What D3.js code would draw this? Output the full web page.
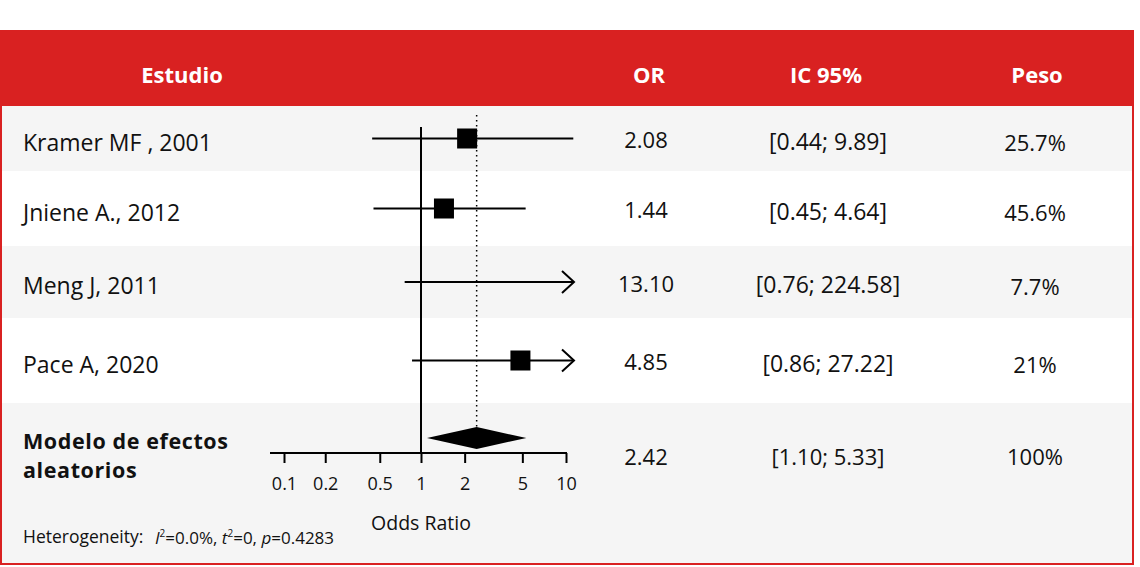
<!DOCTYPE html>
<html>
<head>
<meta charset="utf-8">
<script src="https://cdn.jsdelivr.net/npm/d3@7"></script>
<style>
  body { margin: 0; background: #fff; }
  svg { display: block; font-family: "Open Sans", "Noto Sans", sans-serif; }
</style>
</head>
<body>
<svg id="chart" width="1140" height="567"></svg>
<script>
// study data
var studies = ["Kramer MF , 2001", "Jniene A., 2012", "Meng J, 2011", "Pace A, 2020"];
var orValues = [2.08, 1.44, 13.10, 4.85];
var ciLower = [0.44, 0.45, 0.76, 0.86];
var ciUpper = [9.89, 4.64, 224.58, 27.22];
var weights = [25.7, 45.6, 7.7, 21];

// pooled (random effects)
var pooledLabel = ["Modelo de efectos", "aleatorios"];
var pooledOR = 2.42;
var pooledCI = [1.10, 5.33];
var pooledWeight = 100;

var headers = ["Estudio", "OR", "IC 95%", "Peso"];
var tickValues = [0.1, 0.2, 0.5, 1, 2, 5, 10];
var tickLabels = ["0.1", "0.2", "0.5", "1", "2", "5", "10"];

var red = "#d92121";
var grey = "#f5f5f5";

var svg = d3.select("#chart");

// row bands (header + 4 studies + pooled)
var headerTop = 31, headerBottom = 106;
var rowEdges = [106, 171, 246, 318, 403, 564];
var colX = {name: 23, or: 646, ci: 828, peso: 1035};
var headerX = [182, 649, 826, 1037];

var x = d3.scaleLog()
    .domain([0.1, 1, 10])
    .range([284, 421, 566]);

function fmt(v) { return v.toFixed(2); }

// backgrounds
svg.append("rect")
    .attr("x", 0).attr("y", headerTop)
    .attr("width", 1134).attr("height", headerBottom - headerTop)
    .attr("fill", red);

svg.selectAll("rect.band")
    .data(d3.range(rowEdges.length - 1))
    .enter().append("rect")
    .attr("class", "band")
    .attr("x", 1).attr("width", 1132)
    .attr("y", function(i) { return rowEdges[i]; })
    .attr("height", function(i) { return rowEdges[i + 1] - rowEdges[i]; })
    .attr("fill", function(i) { return i % 2 === 0 ? grey : "#fff"; });

// frame
svg.append("rect")
    .attr("x", 1).attr("y", headerTop)
    .attr("width", 1132).attr("height", rowEdges[rowEdges.length - 1] - headerTop)
    .attr("fill", "none")
    .attr("stroke", red)
    .attr("stroke-width", 2);

// header
svg.selectAll("text.head")
    .data(headers)
    .enter().append("text")
    .attr("class", "head")
    .attr("x", function(d, i) { return headerX[i]; })
    .attr("y", (headerTop + headerBottom) / 2 + 7)
    .attr("dy", "0.35em")
    .attr("text-anchor", "middle")
    .attr("fill", "#fff")
    .style("font-size", "22px")
    .style("font-weight", 700)
    .text(function(d) { return d; });

function rowMid(i) { return (rowEdges[i] + rowEdges[i + 1]) / 2; }

// study text columns
var rows = svg.selectAll("g.row")
    .data(studies)
    .enter().append("g")
    .attr("class", "row");

rows.append("text")
    .attr("x", colX.name)
    .attr("y", function(d, i) { return rowMid(i) + 4; })
    .attr("dy", "0.35em")
    .style("font-size", "23px")
    .attr("fill", "#111")
    .text(function(d) { return d; });

rows.append("text")
    .attr("x", colX.or)
    .attr("y", function(d, i) { return rowMid(i) + 2; })
    .attr("dy", "0.35em")
    .attr("text-anchor", "middle")
    .style("font-size", "22px")
    .attr("fill", "#111")
    .text(function(d, i) { return fmt(orValues[i]); });

rows.append("text")
    .attr("x", colX.ci)
    .attr("y", function(d, i) { return rowMid(i) + 3; })
    .attr("dy", "0.35em")
    .attr("text-anchor", "middle")
    .style("font-size", "23px")
    .attr("fill", "#111")
    .text(function(d, i) { return "[" + fmt(ciLower[i]) + "; " + fmt(ciUpper[i]) + "]"; });

rows.append("text")
    .attr("x", colX.peso)
    .attr("y", function(d, i) { return rowMid(i) + 5; })
    .attr("dy", "0.35em")
    .attr("text-anchor", "middle")
    .style("font-size", "22px")
    .attr("fill", "#111")
    .text(function(d, i) { return weights[i] + "%"; });

// pooled row text
var pTop = rowEdges[4];
svg.selectAll("text.plabel")
    .data(pooledLabel)
    .enter().append("text")
    .attr("class", "plabel")
    .attr("x", colX.name)
    .attr("y", function(d, i) { return pTop + 38 + i * 29.5; })
    .attr("dy", "0.35em")
    .style("font-size", "21.5px")
    .style("letter-spacing", "0.6px")
    .style("font-weight", 700)
    .attr("fill", "#111")
    .text(function(d) { return d; });

var pooledCols = [
    {x: colX.or, t: fmt(pooledOR)},
    {x: colX.ci, t: "[" + fmt(pooledCI[0]) + "; " + fmt(pooledCI[1]) + "]"},
    {x: colX.peso, t: pooledWeight + "%"}
];
svg.selectAll("text.pcol")
    .data(pooledCols)
    .enter().append("text")
    .attr("class", "pcol")
    .attr("x", function(d) { return d.x; })
    .attr("y", pTop + 54)
    .attr("dy", "0.35em")
    .attr("text-anchor", "middle")
    .style("font-size", "22px")
    .attr("fill", "#111")
    .text(function(d) { return d.t; });

// forest plot
var plot = svg.append("g");
var axisY = 453;
var lo = x.domain()[0], hi = x.domain()[x.domain().length - 1];

// reference line at OR = 1
plot.append("line")
    .attr("x1", x(1)).attr("x2", x(1))
    .attr("y1", 127).attr("y2", axisY)
    .attr("stroke", "#000").attr("stroke-width", 2);

// pooled estimate dotted line
plot.append("line")
    .attr("x1", x(pooledOR)).attr("x2", x(pooledOR))
    .attr("y1", 115).attr("y2", 427)
    .attr("stroke", "#000").attr("stroke-width", 1.5)
    .attr("stroke-dasharray", "1.5,3.5");

studies.forEach(function(s, i) {
    var y = rowMid(i);
    var x0 = x(Math.max(ciLower[i], lo));
    var x1 = x(Math.min(ciUpper[i], hi)) + 8;
    plot.append("line")
        .attr("x1", x0).attr("x2", x1)
        .attr("y1", y).attr("y2", y)
        .attr("stroke", "#000").attr("stroke-width", 2);
    // arrow when the interval runs past the axis
    if (ciUpper[i] > hi) {
        plot.append("path")
            .attr("d", "M" + (x1 - 12) + "," + (y - 11) + "L" + x1 + "," + y + "L" + (x1 - 12) + "," + (y + 11))
            .attr("fill", "none")
            .attr("stroke", "#000").attr("stroke-width", 2);
    }
    if (orValues[i] >= lo && orValues[i] <= hi) {
        plot.append("rect")
            .attr("x", x(orValues[i]) - 10).attr("y", y - 10)
            .attr("width", 20).attr("height", 20)
            .attr("fill", "#000");
    }
});

// diamond
var dy = 438;
plot.append("path")
    .attr("d", "M" + x(pooledCI[0]) + "," + dy +
               "L" + x(pooledOR) + "," + (dy - 11) +
               "L" + x(pooledCI[1]) + "," + dy +
               "L" + x(pooledOR) + "," + (dy + 11) + "Z")
    .attr("fill", "#000");

// axis
var axis = d3.axisBottom(x)
    .tickValues(tickValues)
    .tickFormat(function(d, i) { return tickLabels[i]; })
    .tickSize(10)
    .tickSizeOuter(0)
    .tickPadding(14);

var ax = plot.append("g")
    .attr("transform", "translate(0," + axisY + ")")
    .call(axis);
ax.select(".domain").remove();
ax.selectAll(".tick line").attr("stroke", "#000").attr("stroke-width", 2);
ax.selectAll(".tick text")
    .style("font-family", "'Open Sans', sans-serif")
    .style("font-size", "18px")
    .attr("fill", "#111");
ax.append("line")
    .attr("x1", x.range()[0] - 14).attr("x2", x.range()[x.range().length - 1] + 1)
    .attr("stroke", "#000").attr("stroke-width", 2);

plot.append("text")
    .attr("x", x(1))
    .attr("y", 523)
    .attr("dy", "0.35em")
    .attr("text-anchor", "middle")
    .style("font-size", "19.5px")
    .attr("fill", "#111")
    .text("Odds Ratio");

// heterogeneity
var hetY = 537;
svg.append("text")
    .attr("x", colX.name)
    .attr("y", hetY)
    .attr("dy", "0.35em")
    .style("font-size", "17.5px")
    .attr("fill", "#111")
    .text("Heterogeneity:");

var het = svg.append("text")
    .attr("x", 155)
    .attr("y", hetY + 1)
    .attr("dy", "0.35em")
    .style("font-size", "17px")
    .attr("fill", "#111");
het.append("tspan").style("font-style", "italic").text("I");
het.append("tspan").attr("baseline-shift", "super").style("font-size", "10px").text("2");
het.append("tspan").text("=0.0%, ");
het.append("tspan").style("font-style", "italic").text("t");
het.append("tspan").attr("baseline-shift", "super").style("font-size", "10px").text("2");
het.append("tspan").text("=0, ");
het.append("tspan").style("font-style", "italic").text("p");
het.append("tspan").text("=0.4283");
</script>
</body>
</html>
